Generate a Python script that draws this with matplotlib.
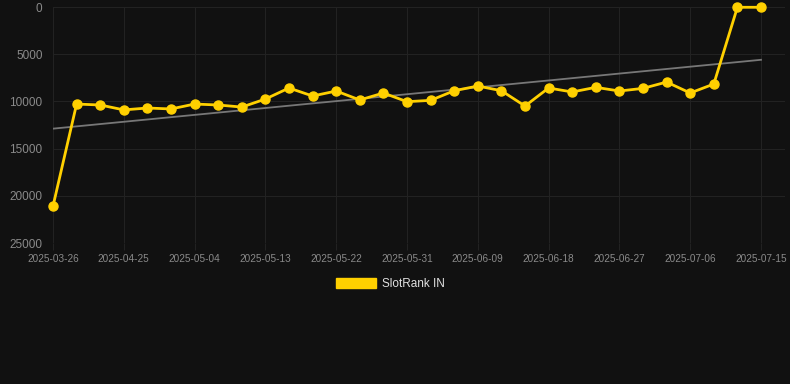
import numpy as np
import matplotlib.pyplot as plt
from matplotlib.patches import Patch

plt.rcParams['font.family'] = ['Liberation Sans', 'DejaVu Sans']

# dates (categorical axis)
dates = ['2025-03-26', '2025-04-19', '2025-04-22', '2025-04-25', '2025-04-28',
         '2025-05-01', '2025-05-04', '2025-05-07', '2025-05-10', '2025-05-13',
         '2025-05-16', '2025-05-19', '2025-05-22', '2025-05-25', '2025-05-28',
         '2025-05-31', '2025-06-03', '2025-06-06', '2025-06-09', '2025-06-12',
         '2025-06-15', '2025-06-18', '2025-06-21', '2025-06-24', '2025-06-27',
         '2025-06-30', '2025-07-03', '2025-07-06', '2025-07-09', '2025-07-12',
         '2025-07-15']
rank = [21100, 10280, 10380, 10900, 10700, 10800, 10280, 10380, 10600, 9750,
        8580, 9430, 8900, 9850, 9110, 10030, 9890, 8870, 8370, 8870,
        10490, 8580, 9000, 8510, 8900, 8620, 7950, 9110, 8160, 30, 30]
series_name = 'SlotRank IN'

bg = '#111111'
yellow = '#FFD000'

fig = plt.figure(figsize=(7.9, 3.84), dpi=100, facecolor=bg)
ax = fig.add_axes([53/790, 1-243/384, (785-53)/790, (243-7)/384])
ax.set_facecolor(bg)

x = np.arange(len(dates))
# trend line (least squares)
k, b = np.polyfit(x, rank, 1)
ax.plot(x, k*x + b, color='#777777', lw=1.3, zorder=2)

ax.plot(x, rank, color=yellow, lw=2, marker='o', ms=6.5, zorder=3, clip_on=False)

ax.set_xlim(0, (785-53)/((761-53)/30))
ax.set_ylim(25000, 0)
ax.set_yticks([0, 5000, 10000, 15000, 20000, 25000])
ax.set_xticks(x[::3])
ax.set_xticklabels(dates[::3])

ax.grid(True, color='#222222', lw=0.8)
ax.set_axisbelow(True)
for s in ax.spines.values():
    s.set_visible(False)
ax.tick_params(axis='y', length=0, pad=7.5, labelsize=8.5, labelcolor='#8a8a8a')
ax.tick_params(axis='x', length=5, width=0.8, color='#222222', pad=3,
               labelsize=7.2, labelcolor='#8a8a8a')

fig.legend(handles=[Patch(facecolor=yellow, edgecolor=yellow, label=series_name)],
           loc='center', bbox_to_anchor=(390/790, 1-284/384), frameon=False,
           handlelength=3.4, handleheight=1.0, handletextpad=0.5,
           fontsize=8.5, labelcolor='#e0e0e0')

fig.savefig('out.png', dpi=100, facecolor=bg)
